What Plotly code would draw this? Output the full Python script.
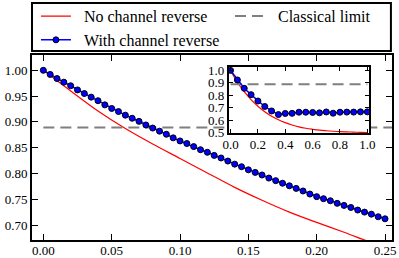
import plotly.graph_objects as go

# ---------------- data ----------------
CLASSICAL = 0.889

x_main = [i * 0.005 for i in range(51)]
with_reverse_main = [
    1.000, 0.992, 0.984, 0.977, 0.970, 0.962, 0.955, 0.948, 0.941, 0.933,
    0.926, 0.920, 0.913, 0.907, 0.901, 0.894, 0.888, 0.882, 0.876, 0.869,
    0.863, 0.858, 0.852, 0.846, 0.841, 0.835, 0.830, 0.824, 0.818, 0.813,
    0.807, 0.802, 0.797, 0.791, 0.786, 0.781, 0.776, 0.771, 0.766, 0.760,
    0.755, 0.751, 0.747, 0.742, 0.738, 0.734, 0.729, 0.725, 0.721, 0.716,
    0.712,
]

x_red_main = [0.00, 0.02, 0.04, 0.06, 0.08, 0.10, 0.12, 0.14, 0.16, 0.18,
              0.20, 0.22, 0.24, 0.26]
no_reverse_main = [1.000, 0.960, 0.921, 0.887, 0.857, 0.829, 0.801, 0.773,
                   0.748, 0.725, 0.705, 0.686, 0.666, 0.648]

x_inset = [i * 0.05 for i in range(21)]
with_reverse_inset = [1.000, 0.923, 0.856, 0.805, 0.754, 0.710, 0.674, 0.645,
                      0.654, 0.655, 0.664, 0.664, 0.662, 0.659, 0.666, 0.656,
                      0.664, 0.665, 0.665, 0.667, 0.667]
no_reverse_inset = [1.000, 0.905, 0.829, 0.765, 0.712, 0.668, 0.632, 0.603,
                    0.580, 0.561, 0.546, 0.535, 0.527, 0.520, 0.515, 0.511,
                    0.508, 0.506, 0.504, 0.502, 0.501]

main_xticks = [0.00, 0.05, 0.10, 0.15, 0.20, 0.25]
main_yticks = [0.70, 0.75, 0.80, 0.85, 0.90, 0.95, 1.00]
inset_xticks = [0.0, 0.2, 0.4, 0.6, 0.8, 1.0]
inset_yticks = [0.5, 0.6, 0.7, 0.8, 0.9, 1.0]

MAIN_XR = [-0.0083, 0.2551]
MAIN_YR = [0.6709, 1.0297]
INSET_XR = [-0.012, 1.012]
INSET_YR = [0.495, 1.03]

FONT = "Liberation Serif"
RED = "#ff0000"
BLUE = "#0000ff"
GRAY = "#7f7f7f"
PAD = "\u00a0\u00a0"
DASH = "11px,6px"

limit_x = [x_inset[0], x_inset[-1]]
limit_y = [CLASSICAL, CLASSICAL]

fig = go.Figure()

# main panel
fig.add_trace(go.Scatter(x=x_red_main, y=no_reverse_main, mode="lines",
                         line=dict(color=RED, width=1.2, shape="spline"),
                         name=PAD + "No channel reverse", legend="legend",
                         xaxis="x", yaxis="y"))
fig.add_trace(go.Scatter(x=limit_x, y=limit_y, mode="lines",
                         line=dict(color=GRAY, width=2, dash=DASH),
                         name=PAD + "Classical limit", legend="legend2",
                         xaxis="x", yaxis="y"))
fig.add_trace(go.Scatter(x=x_main, y=with_reverse_main, mode="lines+markers",
                         line=dict(color=BLUE, width=1.5),
                         marker=dict(color=BLUE, size=6, line=dict(color="black", width=1)),
                         name=PAD + "With channel reverse", legend="legend",
                         xaxis="x", yaxis="y"))

# inset background (covers main lines behind the inset box)
fig.add_trace(go.Scatter(x=[INSET_XR[0], INSET_XR[1], INSET_XR[1], INSET_XR[0], INSET_XR[0]],
                         y=[INSET_YR[0], INSET_YR[0], INSET_YR[1], INSET_YR[1], INSET_YR[0]],
                         mode="lines", fill="toself", fillcolor="white",
                         line=dict(width=0, color="white"), hoverinfo="skip",
                         showlegend=False, xaxis="x2", yaxis="y2"))
fig.add_trace(go.Scatter(x=x_inset, y=no_reverse_inset, mode="lines",
                         line=dict(color=RED, width=1.2, shape="spline"),
                         showlegend=False, xaxis="x2", yaxis="y2"))
fig.add_trace(go.Scatter(x=limit_x, y=limit_y, mode="lines",
                         line=dict(color=GRAY, width=2, dash=DASH),
                         showlegend=False, xaxis="x2", yaxis="y2"))
fig.add_trace(go.Scatter(x=x_inset, y=with_reverse_inset, mode="lines+markers",
                         line=dict(color=BLUE, width=1.5),
                         marker=dict(color=BLUE, size=6, line=dict(color="black", width=1)),
                         showlegend=False, xaxis="x2", yaxis="y2"))

axis_common = dict(showline=True, linewidth=2, linecolor="black", mirror="ticks",
                   ticks="inside", tickcolor="black", tickwidth=1,
                   showgrid=False, zeroline=False, automargin=False,
                   tickfont=dict(family=FONT, size=13, color="black"))

legend_common = dict(orientation="v", y=1.302, yanchor="top", xanchor="left",
                     bgcolor="rgba(0,0,0,0)", borderwidth=0,
                     font=dict(family=FONT, size=16, color="black"),
                     itemwidth=30, tracegroupgap=0)

fig.update_layout(
    width=399, height=258,
    margin=dict(l=32, r=7, t=55, b=18, autoexpand=False),
    paper_bgcolor="white", plot_bgcolor="white",
    font=dict(family=FONT, color="black"),
    xaxis=dict(domain=[0, 1], range=MAIN_XR, tickvals=main_xticks,
               tickformat=".2f", ticklen=6, ticklabelstandoff=-3, **axis_common),
    yaxis=dict(domain=[0, 1], range=MAIN_YR, tickvals=main_yticks,
               tickformat=".2f", ticklen=6, **axis_common),
    xaxis2=dict(domain=[0.547, 0.936], anchor="y2", range=INSET_XR,
                tickvals=inset_xticks, tickformat=".1f", ticklen=4,
                ticklabelstandoff=-2, **axis_common),
    yaxis2=dict(domain=[0.577, 0.937], anchor="x2", range=INSET_YR,
                tickvals=inset_yticks, tickformat=".1f", ticklen=4, **axis_common),
    legend=dict(x=0.011, **legend_common),
    legend2=dict(x=0.55, **legend_common),
    shapes=[dict(type="rect", xref="paper", yref="paper",
                 x0=0.0, x1=0.997, y0=1.022, y1=1.281,
                 line=dict(color="black", width=2), fillcolor="rgba(0,0,0,0)")],
    showlegend=True,
)

fig.write_html("out.html", config={"displayModeBar": False},
               post_script="document.body.style.margin='0';")
